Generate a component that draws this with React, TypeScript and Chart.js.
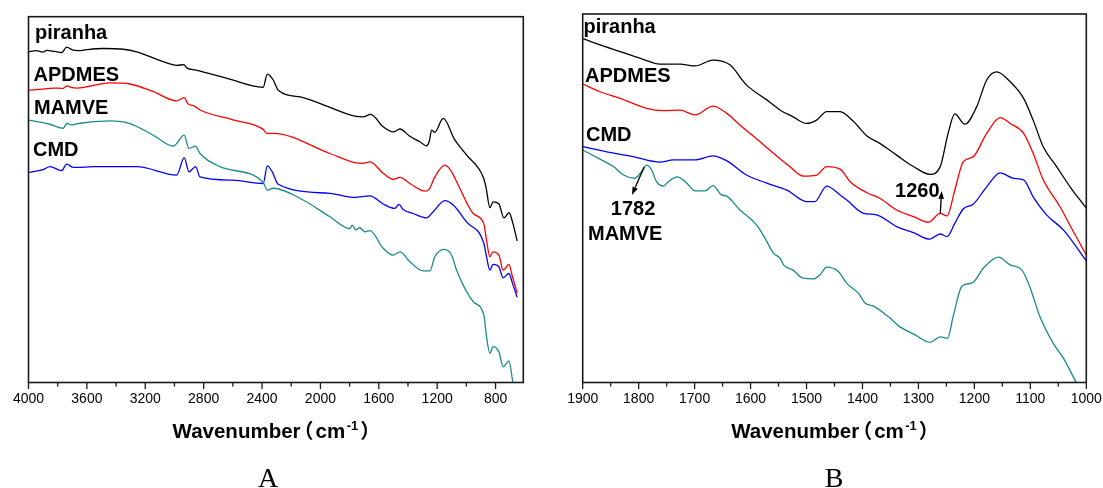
import React, { useEffect, useRef } from "react";
import { Chart, registerables } from "chart.js";

Chart.register(...registerables);

// ---------- Panel A (4000 – 610 cm-1) ----------
const A_TICKS = [4000, 3800, 3600, 3400, 3200, 3000, 2800, 2600, 2400, 2200, 2000, 1800, 1600, 1400, 1200, 1000, 800];

const A_PIRANHA_W = [4000, 3950, 3900, 3875, 3820, 3773, 3738, 3700, 3659, 3600, 3488, 3350, 3259, 3077, 2985, 2935, 2916, 2853, 2650, 2392, 2364, 2323, 2289, 2118, 1935, 1764, 1707, 1656, 1570, 1501, 1455, 1387, 1318, 1273, 1255, 1238, 1216, 1159, 1079, 999, 885, 866, 839, 817, 777, 743, 707, 684, 652];
const A_PIRANHA_T = [90.4, 90.7, 90.3, 90.8, 90.5, 90.2, 91.7, 90.9, 90.7, 91.0, 91.3, 91.1, 90.4, 87.7, 86.7, 86.9, 86.0, 85.4, 83.3, 80.7, 84.3, 82.7, 79.9, 77.9, 75.2, 72.8, 72.6, 73.3, 69.9, 68.5, 69.3, 67.3, 65.8, 64.7, 65.8, 69.0, 68.4, 72.2, 66.3, 62.2, 56.2, 53.5, 47.8, 49.4, 48.8, 45.0, 46.4, 43.9, 38.7];

const A_APDMES_W = [4000, 3900, 3830, 3762, 3738, 3700, 3670, 3442, 3305, 3145, 2985, 2933, 2910, 2860, 2825, 2600, 2392, 2368, 2323, 1935, 1764, 1707, 1661, 1570, 1501, 1455, 1387, 1284, 1255, 1216, 1147, 1101, 1056, 953, 880, 862, 839, 817, 777, 748, 709, 684, 652];
const A_APDMES_T = [79.9, 80.2, 80.5, 80.4, 81.1, 80.6, 80.5, 81.9, 81.6, 79.5, 77.0, 77.9, 76.3, 75.5, 74.5, 71.8, 69.2, 68.1, 68.1, 62.6, 60.1, 59.9, 60.3, 57.2, 55.5, 56.1, 54.4, 52.3, 52.8, 56.2, 59.4, 57.6, 54.0, 46.2, 43.3, 38.9, 34.4, 35.7, 34.8, 30.7, 32.3, 28.9, 24.4];

const A_CMD_W = [4000, 3900, 3853, 3773, 3738, 3700, 3670, 3556, 3259, 2985, 2933, 2901, 2855, 2825, 2600, 2392, 2364, 2330, 2289, 1935, 1764, 1661, 1570, 1490, 1462, 1433, 1364, 1273, 1227, 1147, 1090, 999, 880, 862, 839, 817, 777, 748, 709, 684, 652];
const A_CMD_T = [57.4, 58.2, 59.0, 57.9, 59.7, 58.9, 58.8, 59.0, 59.0, 56.7, 61.5, 57.6, 59.0, 56.2, 55.3, 54.4, 59.2, 57.6, 54.2, 51.7, 50.6, 51.0, 48.8, 47.6, 48.7, 47.3, 46.2, 45.0, 46.7, 49.7, 48.5, 43.9, 38.0, 34.4, 30.7, 32.3, 31.6, 28.6, 29.8, 27.1, 23.3];

const A_MAMVE_W = [4000, 3853, 3762, 3738, 3700, 3659, 3442, 3305, 3145, 3008, 2933, 2901, 2855, 2825, 2688, 2392, 2364, 2323, 2118, 1935, 1798, 1782, 1757, 1730, 1695, 1661, 1570, 1501, 1455, 1387, 1296, 1250, 1216, 1152, 1101, 1067, 953, 880, 862, 839, 817, 777, 748, 709, 680, 660];
const A_MAMVE_T = [71.7, 70.6, 69.5, 70.8, 70.4, 70.8, 71.5, 70.8, 67.6, 64.6, 67.6, 64.0, 64.6, 62.6, 59.0, 54.7, 52.6, 53.1, 49.9, 45.3, 42.1, 43.0, 41.7, 42.3, 41.2, 41.5, 36.7, 34.8, 35.7, 33.0, 30.5, 30.5, 34.4, 36.4, 34.8, 30.7, 22.1, 18.4, 12.5, 8.0, 9.8, 8.4, 4.3, 5.9, -0.2, -3.0];

// ---------- Panel B (1900 – 1000 cm-1) ----------
const B_TICKS = [1900, 1850, 1800, 1750, 1700, 1650, 1600, 1550, 1500, 1450, 1400, 1350, 1300, 1250, 1200, 1150, 1100, 1050, 1000];

const B_PIRANHA_W = [1900, 1869, 1833, 1798, 1762, 1726, 1699, 1667, 1637, 1607, 1571, 1547, 1524, 1500, 1482, 1464, 1440, 1416, 1392, 1369, 1339, 1309, 1279, 1261, 1247, 1235, 1217, 1196, 1178, 1160, 1136, 1112, 1095, 1077, 1053, 1029, 1002, 1000];
const B_PIRANHA_T = [93.4, 91.6, 89.8, 88.0, 86.4, 86.4, 85.9, 87.5, 86.2, 80.7, 76.7, 73.9, 72.1, 70.3, 71.2, 73.5, 73.5, 70.8, 66.9, 64.9, 61.7, 58.6, 56.5, 58.6, 67.6, 72.9, 70.1, 74.8, 82.1, 84.3, 81.6, 77.1, 71.2, 64.0, 58.6, 53.1, 47.7, 47.3];

const B_APDMES_W = [1900, 1869, 1833, 1786, 1756, 1726, 1699, 1667, 1643, 1619, 1583, 1559, 1530, 1506, 1482, 1464, 1440, 1422, 1392, 1369, 1339, 1309, 1282, 1261, 1249, 1235, 1220, 1202, 1178, 1154, 1136, 1112, 1095, 1077, 1047, 1023, 1000];
const B_APDMES_T = [81.0, 78.9, 77.1, 74.4, 73.8, 73.9, 72.6, 75.0, 73.1, 69.9, 65.3, 62.2, 58.6, 56.0, 56.3, 58.6, 57.9, 54.5, 51.5, 50.0, 46.8, 45.0, 43.5, 45.9, 45.2, 52.2, 59.9, 61.3, 67.6, 71.9, 70.3, 67.6, 62.2, 55.0, 47.7, 40.9, 34.6];

const B_CMD_W = [1900, 1857, 1810, 1762, 1738, 1699, 1667, 1643, 1607, 1571, 1535, 1500, 1485, 1464, 1440, 1428, 1398, 1375, 1339, 1309, 1280, 1261, 1249, 1235, 1220, 1202, 1178, 1154, 1130, 1112, 1095, 1071, 1041, 1000];
const B_CMD_T = [64.0, 62.6, 61.3, 59.8, 60.4, 60.4, 61.5, 60.2, 56.3, 54.1, 52.2, 49.1, 49.1, 53.3, 50.9, 49.5, 45.9, 45.5, 42.3, 40.7, 38.9, 40.3, 39.6, 43.2, 47.1, 48.4, 53.1, 56.9, 55.4, 55.0, 50.4, 45.5, 41.4, 33.0];

const B_MAMVE_W = [1900, 1869, 1845, 1827, 1807, 1795, 1786, 1777, 1768, 1756, 1747, 1731, 1714, 1699, 1681, 1667, 1652, 1643, 1619, 1589, 1574, 1559, 1547, 1541, 1524, 1506, 1488, 1476, 1464, 1443, 1428, 1407, 1395, 1381, 1354, 1333, 1309, 1279, 1261, 1248, 1238, 1223, 1214, 1202, 1184, 1157, 1136, 1115, 1101, 1083, 1059, 1041, 1018, 1010];
const B_MAMVE_T = [63.1, 60.6, 58.6, 56.3, 55.4, 57.2, 59.0, 57.7, 54.5, 53.3, 54.5, 55.8, 54.1, 52.0, 52.0, 53.4, 50.9, 50.6, 46.8, 42.7, 39.1, 35.1, 33.7, 31.9, 30.5, 28.3, 28.1, 29.2, 31.3, 30.1, 26.9, 24.2, 21.5, 20.8, 17.9, 15.1, 13.2, 10.9, 12.4, 12.0, 17.9, 26.0, 26.7, 27.2, 31.0, 34.0, 31.9, 30.5, 26.0, 17.9, 10.6, 6.6, 0.05, -2.0];

// annotation values (wavenumber, a.u.)
const NOTE_1782 = { text: "1782", w: 1810, t: 45.4 };
const NOTE_MAMVE = { text: "MAMVE", w: 1824, t: 38.7 };
const NOTE_1260 = { text: "1260", w: 1302, t: 50.3 };
const ARROW_1782 = { w0: 1790, t0: 58.5, w1: 1812, t1: 50.9 };
const ARROW_1260 = { w0: 1261, t0: 45.9, w1: 1258.5, t1: 52.0 };

const COLORS = {
  piranha: "#000000",
  apdmes: "#ff0000",
  cmd: "#0000ff",
  mamve: "#1b8a8a",
};

const SANS = 'Arial, "Liberation Sans", sans-serif';
const SERIF = '"Times New Roman", "Liberation Serif", serif';
const CJK = '"Noto Sans CJK SC", sans-serif';

type Series = { w: number[]; t: number[]; color: string };
type Label = { text: string; dx: number; dy: number };
type Note = { text: string; w: number; t: number };
type Arrow = { w0: number; t0: number; w1: number; t1: number };

interface PanelSpec {
  left: number;
  width: number;
  height: number;
  pad: { left: number; top: number; right: number };
  axisBottom: number;
  xMin: number;
  xMax: number;
  ticks: number[];
  major: number;
  series: Series[];
  labels: Label[];
  notes: Note[];
  arrows: Arrow[];
  letter: string;
  letterX: number;
}

const PANEL_A: PanelSpec = {
  left: 0,
  width: 550,
  height: 488,
  pad: { left: 28.5, top: 16.7, right: 26.7 },
  axisBottom: 382.5,
  xMin: 610,
  xMax: 4000,
  ticks: A_TICKS,
  major: 400,
  series: [
    { w: A_PIRANHA_W, t: A_PIRANHA_T, color: COLORS.piranha },
    { w: A_APDMES_W, t: A_APDMES_T, color: COLORS.apdmes },
    { w: A_MAMVE_W, t: A_MAMVE_T, color: COLORS.mamve },
    { w: A_CMD_W, t: A_CMD_T, color: COLORS.cmd },
  ],
  labels: [
    { text: "piranha", dx: 6.5, dy: 22.6 },
    { text: "APDMES", dx: 5, dy: 64.3 },
    { text: "MAMVE", dx: 5.5, dy: 97.6 },
    { text: "CMD", dx: 4.5, dy: 139.3 },
  ],
  notes: [],
  arrows: [],
  letter: "A",
  letterX: 268,
};

// canvas B is wider than the window; the wrapper clips it, so the
// "1000" label does not force the plot area to shrink.
const PANEL_B: PanelSpec = {
  left: 550,
  width: 580,
  height: 488,
  pad: { left: 32.7, top: 14, right: 43.7 },
  axisBottom: 382.5,
  xMin: 1000,
  xMax: 1900,
  ticks: B_TICKS,
  major: 100,
  series: [
    { w: B_PIRANHA_W, t: B_PIRANHA_T, color: COLORS.piranha },
    { w: B_APDMES_W, t: B_APDMES_T, color: COLORS.apdmes },
    { w: B_MAMVE_W, t: B_MAMVE_T, color: COLORS.mamve },
    { w: B_CMD_W, t: B_CMD_T, color: COLORS.cmd },
  ],
  labels: [
    { text: "piranha", dx: 0.8, dy: 18.7 },
    { text: "APDMES", dx: 2.3, dy: 67.7 },
    { text: "CMD", dx: 3.3, dy: 126.7 },
  ],
  notes: [NOTE_1782, NOTE_MAMVE, NOTE_1260],
  arrows: [ARROW_1782, ARROW_1260],
  letter: "B",
  letterX: 834 - 550,
};

function isMajor(v: number, major: number) {
  return Math.abs(v / major - Math.round(v / major)) < 1e-6;
}

function drawTitle(ctx: CanvasRenderingContext2D, cx: number, baseline: number) {
  const main = `bold 20.5px ${SANS}`;
  const sup = `bold 13px ${SANS}`;
  const paren = `bold 20px ${CJK}`;
  ctx.font = main;
  const wWave = ctx.measureText("Wavenumber").width;
  const wCm = ctx.measureText("cm").width;
  ctx.font = sup;
  const wSup = ctx.measureText("-1").width;
  const total = wWave + 15 + wCm + 1.5 + wSup + 11;
  let x = cx - total / 2;
  ctx.fillStyle = "#000";
  ctx.textBaseline = "alphabetic";
  ctx.textAlign = "left";
  ctx.font = main;
  ctx.fillText("Wavenumber", x, baseline);
  const waveEnd = x + wWave;
  ctx.font = paren;
  ctx.textAlign = "center";
  ctx.fillText("（", waveEnd + 3, baseline);
  x = waveEnd + 15;
  ctx.textAlign = "left";
  ctx.font = main;
  ctx.fillText("cm", x, baseline);
  x += wCm + 1.5;
  ctx.font = sup;
  ctx.fillText("-1", x, baseline - 8.5);
  const supEnd = x + wSup;
  ctx.font = paren;
  ctx.textAlign = "center";
  ctx.fillText("）", supEnd + 12, baseline);
}

function drawArrow(ctx: CanvasRenderingContext2D, x0: number, y0: number, x1: number, y1: number) {
  const ang = Math.atan2(y1 - y0, x1 - x0);
  const len = 8;
  const half = 2.8;
  const bx = x1 - len * Math.cos(ang);
  const by = y1 - len * Math.sin(ang);
  ctx.strokeStyle = "#000";
  ctx.lineWidth = 1.3;
  ctx.beginPath();
  ctx.moveTo(x0, y0);
  ctx.lineTo(bx, by);
  ctx.stroke();
  ctx.fillStyle = "#000";
  ctx.beginPath();
  ctx.moveTo(x1, y1);
  ctx.lineTo(bx + half * Math.sin(ang), by - half * Math.cos(ang));
  ctx.lineTo(bx - half * Math.sin(ang), by + half * Math.cos(ang));
  ctx.closePath();
  ctx.fill();
}

function makeOverlay(spec: PanelSpec) {
  return {
    id: "overlay" + spec.letter,
    afterDraw(chart: any) {
      const { ctx, chartArea: ca } = chart;
      const xs = chart.scales.x;
      const ys = chart.scales.y;
      ctx.save();
      // tick marks (outward)
      ctx.strokeStyle = "#1a1a1a";
      ctx.lineWidth = 1.3;
      for (const tk of xs.ticks) {
        const px = xs.getPixelForValue(tk.value);
        ctx.beginPath();
        ctx.moveTo(px, ca.bottom);
        ctx.lineTo(px, ca.bottom + (isMajor(tk.value, spec.major) ? 6.5 : 4));
        ctx.stroke();
      }
      // frame
      ctx.lineWidth = 1.6;
      ctx.strokeRect(ca.left, ca.top, ca.right - ca.left, ca.bottom - ca.top);

      // series labels
      ctx.fillStyle = "#000";
      ctx.font = `bold 20px ${SANS}`;
      ctx.textAlign = "left";
      ctx.textBaseline = "alphabetic";
      for (const lb of spec.labels) {
        ctx.fillText(lb.text, ca.left + lb.dx, ca.top + lb.dy);
      }
      // annotations
      ctx.textAlign = "center";
      for (const n of spec.notes) {
        ctx.fillText(n.text, xs.getPixelForValue(n.w), ys.getPixelForValue(n.t));
      }
      for (const a of spec.arrows) {
        drawArrow(
          ctx,
          xs.getPixelForValue(a.w0),
          ys.getPixelForValue(a.t0),
          xs.getPixelForValue(a.w1),
          ys.getPixelForValue(a.t1)
        );
      }
      // axis title
      drawTitle(ctx, (ca.left + ca.right) / 2 - 5, 438);
      // panel letter
      ctx.fillStyle = "#000";
      ctx.font = `28px ${SERIF}`;
      ctx.textAlign = "center";
      ctx.textBaseline = "alphabetic";
      ctx.fillText(spec.letter, spec.letterX, 487);
      ctx.restore();
    },
  };
}

function Panel({ spec }: { spec: PanelSpec }) {
  const ref = useRef<HTMLCanvasElement | null>(null);
  useEffect(() => {
    if (!ref.current) return;
    const datasets = spec.series.map((s) => ({
      data: s.w.map((w, i) => ({ x: w, y: s.t[i] })),
      borderColor: s.color,
      backgroundColor: s.color,
      borderWidth: 1.3,
      pointRadius: 0,
      fill: false,
      cubicInterpolationMode: "monotone" as const,
    }));
    const chart = new Chart(ref.current, {
      type: "line",
      data: { datasets },
      options: {
        animation: false,
        responsive: false,
        maintainAspectRatio: false,
        devicePixelRatio: 1,
        events: [],
        layout: {
          padding: { left: spec.pad.left, top: spec.pad.top, right: spec.pad.right, bottom: 0 },
        },
        plugins: {
          legend: { display: false },
          tooltip: { enabled: false },
          title: { display: false },
        },
        scales: {
          x: {
            type: "linear",
            reverse: true,
            min: spec.xMin,
            max: spec.xMax,
            border: { display: false },
            grid: { display: false, drawTicks: false },
            ticks: {
              autoSkip: false,
              maxRotation: 0,
              minRotation: 0,
              padding: 8,
              color: "#000",
              font: { family: SANS, size: 14 },
              callback: (v: any) => {
                const n = Number(v);
                return isMajor(n, spec.major) ? String(Math.round(n)) : "";
              },
            },
            afterBuildTicks: (scale: any) => {
              scale.ticks = spec.ticks.map((v) => ({ value: v }));
            },
            afterFit: (scale: any) => {
              scale.height = spec.height - spec.axisBottom;
            },
          },
          y: {
            type: "linear",
            display: false,
            min: 0,
            max: 100,
          },
        },
      },
      plugins: [makeOverlay(spec)],
    });
    return () => chart.destroy();
  }, [spec]);
  return (
    <canvas
      ref={ref}
      width={spec.width}
      height={spec.height}
      style={{ position: "absolute", left: spec.left, top: 0, width: spec.width, height: spec.height }}
    />
  );
}

export default function App() {
  return (
    <div
      style={{
        position: "absolute",
        left: 0,
        top: 0,
        width: 1103,
        height: 488,
        background: "#ffffff",
        overflow: "hidden",
      }}
    >
      <Panel spec={PANEL_A} />
      <Panel spec={PANEL_B} />
    </div>
  );
}
